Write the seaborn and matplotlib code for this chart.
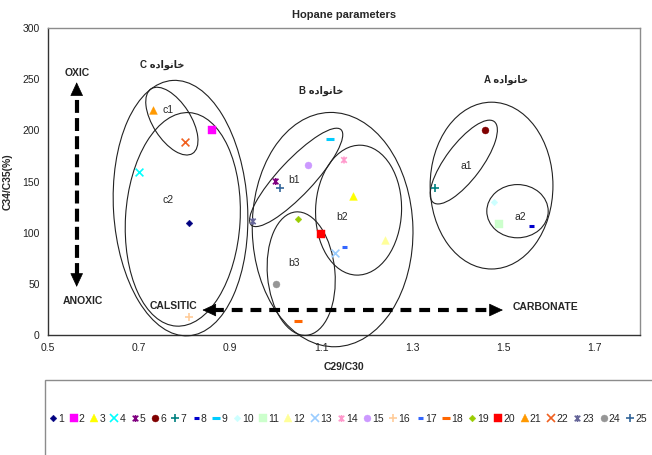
import matplotlib
matplotlib.use("Agg")
import numpy as np
import pandas as pd
import matplotlib.pyplot as plt
import seaborn as sns
import matplotlib.transforms as mtransforms
from matplotlib.patches import Ellipse, Rectangle
from matplotlib.path import Path
from matplotlib.lines import Line2D

# ---------------- data ----------------
series = [str(i) for i in range(1, 26)]
c29_c30 = [0.81, 0.86, 1.17, 0.70, 1.00, 1.46, 1.35, 1.56, 1.12, 1.48, 1.49, 1.24, 1.13,
           1.15, 1.07, 0.81, 1.15, 1.05, 1.05, 1.10, 0.73, 0.80, 0.95, 1.00, 1.01]
c34_c35 = [109, 200, 136, 159, 150, 200, 144, 107, 192, 130, 108, 93, 80,
           171, 166, 18, 86, 14, 113, 99, 220, 189, 111, 50, 144]

x_ticks = [0.5, 0.7, 0.9, 1.1, 1.3, 1.5, 1.7]
y_ticks = [0, 50, 100, 150, 200, 250, 300]

family_word = "خانواده"
group_names = ["C", "B", "A"]
group_label_x = [0.751, 1.101, 1.505]
group_label_y = [264, 239, 249]

sub_names = ["c1", "c2", "b1", "b2", "b3", "a1", "a2"]
sub_x = [0.763, 0.763, 1.040, 1.145, 1.040, 1.418, 1.538]
sub_y = [220, 132, 151, 115, 70, 165, 115]

# ellipse outlines: centre (data), axes (in y-units ~ pixels), angle
ell_cx = [0.791, 0.772, 0.796, 1.125, 1.045, 1.182, 1.056, 1.474, 1.413, 1.531]
ell_cy = [124, 209, 113, 103, 154, 122, 60, 146, 169, 121]
ell_major = [250, 75, 209, 229, 128, 127, 121, 163, 99, 60]
ell_minor = [131, 37, 112, 157, 34, 84, 66, 120, 35, 52]
ell_angle = [93.5, -57.4, 86.5, 91.5, 46.8, 88, 95, 90, 53.1, 0]

# ---------------- styles ----------------
colors = ["#000080", "#FF00FF", "#FFFF00", "#00FFFF", "#800080", "#800000", "#008080",
          "#0000CC", "#00CCFF", "#CCFFFF", "#CCFFCC", "#FFFF99", "#99CCFF", "#FF99CC",
          "#CC99FF", "#FFCC99", "#3366FF", "#FF6600", "#99CC00", "#FF0000", "#FF9900",
          "#F06020", "#666699", "#969696", "#336699"]

star = Path([(-1, -1), (1, 1), (-1, 1), (1, -1), (0, -1.25), (0, 1.25)],
            [Path.MOVETO, Path.LINETO, Path.MOVETO, Path.LINETO, Path.MOVETO, Path.LINETO])
cycle_m = ["D", "s", "^", "x", star, "o", "+", "_short", "_long"]
cycle_ms = [3.4, 5.6, 5.6, 5.6, 5.0, 5.0, 5.4, 3.6, 6.0]
markers, msizes = [], []
for i in range(25):
    markers.append(cycle_m[i % 9])
    msizes.append(cycle_ms[i % 9])

sns.set_style("white")
plt.rcParams["font.family"] = ["Liberation Sans", "DejaVu Sans"]

W, H = 652, 455
fig = plt.figure(figsize=(W / 100, H / 100), dpi=100)
ax_l, ax_r, ax_t, ax_b = 48, 640, 28, 335
ax = fig.add_axes([ax_l / W, 1 - ax_b / H, (ax_r - ax_l) / W, (ax_b - ax_t) / H])
xmin, xmax, ymin, ymax = 0.5, 1.8, 0, 300
ax.set_xlim(xmin, xmax)
ax.set_ylim(ymin, ymax)

df = pd.DataFrame({"series": series, "x": c29_c30, "y": c34_c35})

def real_marker(m):
    return "_" if isinstance(m, str) and m.startswith("_") else m

for i, row in df.iterrows():
    m = markers[i]
    c = colors[i]
    ms = msizes[i]
    if isinstance(m, str) and m in ("D", "s", "^", "o"):
        sns.scatterplot(x=[row["x"]], y=[row["y"]], marker=m, color=c, s=ms ** 2,
                        edgecolor=c, linewidth=0.3, ax=ax, legend=False, zorder=5)
    else:
        lw = 2.2 if (isinstance(m, str) and m.startswith("_")) else 1.2
        sns.scatterplot(x=[row["x"]], y=[row["y"]], marker=real_marker(m), color=c,
                        s=ms ** 2, linewidth=lw, edgecolor=c, facecolor="none" if m is star else c,
                        ax=ax, legend=False, zorder=5)

# ---------------- axes styling ----------------
ax.set_xticks(x_ticks)
ax.set_xticklabels([f"{v:.1f}" for v in x_ticks])
ax.set_yticks(y_ticks)
ax.set_yticklabels([str(v) for v in y_ticks])
ax.tick_params(axis="x", direction="inout", length=6, width=0.8, labelsize=7.5, pad=3, colors="#222222")
ax.tick_params(axis="y", direction="out", length=4, width=0.8, labelsize=7.5, pad=2, colors="#222222")
for s in ["left", "bottom"]:
    ax.spines[s].set_color("#333333")
    ax.spines[s].set_linewidth(1.0)
for s in ["top", "right"]:
    ax.spines[s].set_color("#8c8c8c")
    ax.spines[s].set_linewidth(1.0)
ax.set_xlabel("C29/C30", fontsize=7.5, fontweight="bold", labelpad=6)
ax.set_ylabel("C34/C35(%)", fontsize=7.5, fontweight="bold")
ax.yaxis.set_label_coords(-0.059, 0.5)
ax.set_title("Hopane parameters", fontsize=8, fontweight="bold", pad=7)

# ---------------- ellipses ----------------
fig.canvas.draw()
px_per_x = (ax_r - ax_l) / (xmax - xmin)
px_per_y = (ax_b - ax_t) / (ymax - ymin)
K = px_per_x / px_per_y
etr = mtransforms.Affine2D().scale(1 / K, 1) + ax.transData
for cx, cy, a, b, ang in zip(ell_cx, ell_cy, ell_major, ell_minor, ell_angle):
    e = Ellipse((cx * K, cy), a, b, angle=ang, transform=etr, fill=False,
                edgecolor="#222222", linewidth=0.8, clip_on=False, zorder=3)
    ax.add_patch(e)

# ---------------- labels ----------------
def shape_persian(word):
    forms = {"خ": ("\uFEA5", "\uFEA6", "\uFEA7", "\uFEA8"),
             "ا": ("\uFE8D", "\uFE8E", None, None),
             "ن": ("\uFEE5", "\uFEE6", "\uFEE7", "\uFEE8"),
             "و": ("\uFEED", "\uFEEE", None, None),
             "د": ("\uFEA9", "\uFEAA", None, None),
             "ه": ("\uFEE9", "\uFEEA", "\uFEEB", "\uFEEC")}
    out = []
    n = len(word)
    for i, ch in enumerate(word):
        f = forms[ch]
        prev_j = i > 0 and forms[word[i - 1]][2] is not None
        next_j = i < n - 1 and f[2] is not None
        if prev_j and next_j:
            out.append(f[3])
        elif prev_j:
            out.append(f[1])
        elif next_j:
            out.append(f[2])
        else:
            out.append(f[0])
    return "".join(reversed(out))

pw = shape_persian(family_word)
for g, gx, gy in zip(group_names, group_label_x, group_label_y):
    ax.text(gx, gy, g + " " + pw, ha="center", va="center", fontsize=7, fontweight="bold",
            family=["Liberation Sans", "DejaVu Sans"], zorder=6)

for nm, sx, sy in zip(sub_names, sub_x, sub_y):
    ax.text(sx, sy, nm, ha="center", va="center", fontsize=7.5, zorder=6)

ax.text(0.563, 256, "OXIC", ha="center", va="center", fontsize=7.5, fontweight="bold")
ax.text(0.576, 33, "ANOXIC", ha="center", va="center", fontsize=7.5, fontweight="bold")
ax.text(0.775, 28, "CALSITIC", ha="center", va="center", fontsize=7.5, fontweight="bold", zorder=6)
ax.text(1.593, 27, "CARBONATE", ha="center", va="center", fontsize=7.5, fontweight="bold")

# ---------------- dashed arrows ----------------
head = dict(arrowstyle="-|>,head_length=0.9,head_width=0.42", color="black", lw=0.5,
            mutation_scale=10, shrinkA=0, shrinkB=0)
# vertical
vx, vy0, vy1 = 0.563, 47, 247
ax.plot([vx, vx], [vy0 + 11, vy1 - 11], color="black", lw=3.0, dashes=(3.1, 1.25),
        solid_capstyle="butt", dash_capstyle="butt", zorder=4)
ax.annotate("", xy=(vx, vy1), xytext=(vx, vy1 - 10), arrowprops=head, zorder=4)
ax.annotate("", xy=(vx, vy0), xytext=(vx, vy0 + 10), arrowprops=head, zorder=4)
# horizontal
hy, hx0, hx1 = 24.4, 0.839, 1.499
dxh = 11 / px_per_x
ax.plot([hx0 + dxh, hx1 - dxh], [hy, hy], color="black", lw=3.0, dashes=(2.6, 1.9),
        dash_capstyle="butt", zorder=4)
ax.annotate("", xy=(hx0, hy), xytext=(hx0 + 10 / px_per_x, hy), arrowprops=head, zorder=4)
ax.annotate("", xy=(hx1, hy), xytext=(hx1 - 10 / px_per_x, hy), arrowprops=head, zorder=4)

# ---------------- legend ----------------
handles = []
for i in range(25):
    m = markers[i]
    c = colors[i]
    ms = msizes[i]
    if isinstance(m, str) and m in ("D", "s", "^", "o"):
        h = Line2D([], [], ls="none", marker=m, ms=ms, mfc=c, mec=c, mew=0.3)
    elif isinstance(m, str) and m.startswith("_"):
        h = Line2D([], [], ls="none", marker="_", ms=ms, mec=c, mew=2.2)
    else:
        h = Line2D([], [], ls="none", marker=m, ms=ms, mec=c, mfc="none", mew=1.2)
    handles.append(h)
fig.legend(handles, series, ncol=25, loc="center left", bbox_to_anchor=(50 / W, 1 - 419 / H),
           frameon=False, fontsize=7.5, handlelength=0.6, handletextpad=0.2,
           columnspacing=0.6, borderpad=0, borderaxespad=0)
fig.add_artist(Rectangle((45 / W, -0.2), 1.2, 1 - 380 / H + 0.2, transform=fig.transFigure,
                         fill=False, edgecolor="#8c8c8c", linewidth=1.0))

fig.savefig("out.png", dpi=100)
